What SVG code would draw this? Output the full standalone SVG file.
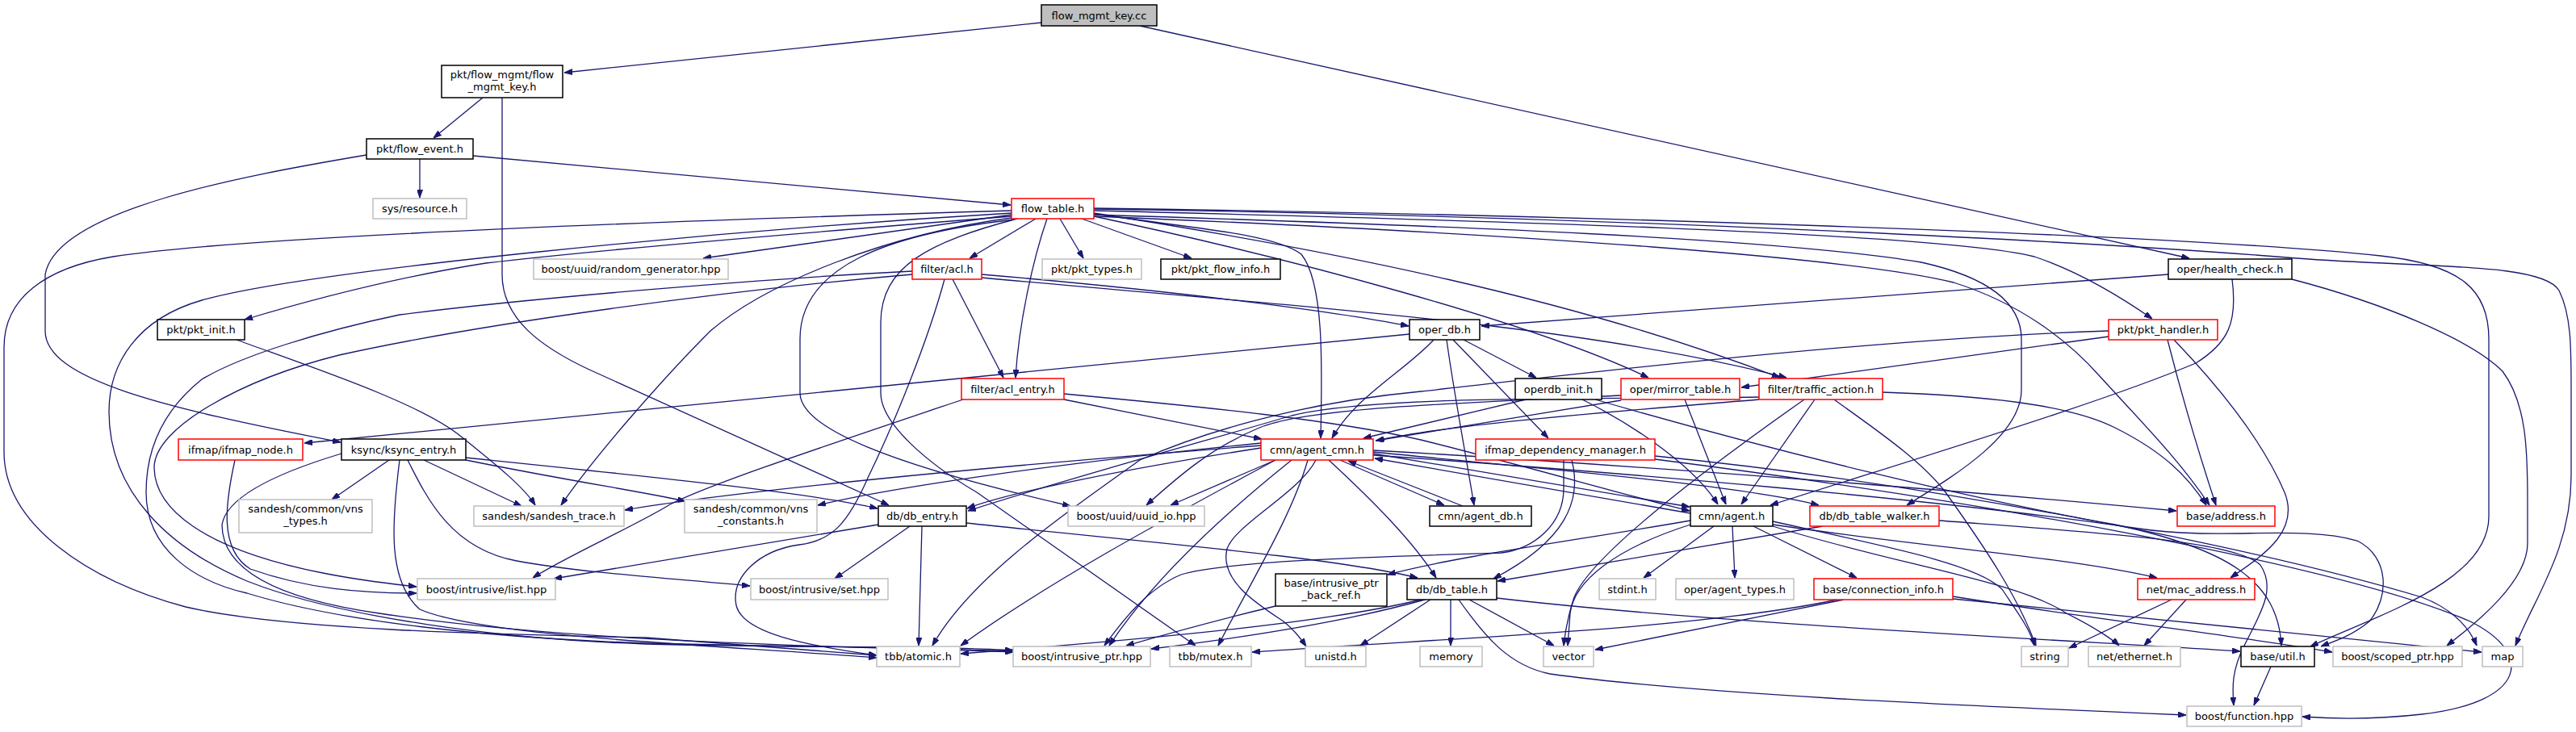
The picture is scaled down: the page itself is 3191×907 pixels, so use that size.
<svg xmlns="http://www.w3.org/2000/svg" width="3191" height="907" viewBox="0 0 3191 907">
<style>
text{font-family:"DejaVu Sans","Liberation Sans",sans-serif;font-size:13px;text-anchor:middle;fill:#000}
.n rect{fill:#fff;stroke:#000;stroke-width:1.5}
.g rect{stroke:#bfbfbf}
.r rect{stroke:#ff0000}
.root rect{fill:#bfbfbf;stroke:#000}
#edges path{fill:none;stroke:#191970;stroke-width:1.3;marker-end:url(#ah)}
</style>
<defs>
<marker id="ah" viewBox="0 0 10 7" refX="10" refY="3.5" markerWidth="10" markerHeight="7" markerUnits="userSpaceOnUse" orient="auto"><path d="M0,0 L10,3.5 L0,7 z" fill="#191970" stroke="#191970" stroke-width="1"/></marker>
</defs>
<rect x="0" y="0" width="3191" height="907" fill="#fff"/>
<g id="edges">
<path d="M1290,28 L699,90"/>
<path d="M1412,32 L2712,320"/>
<path d="M598,121 L537,171"/>
<path d="M622,121 L622,340 C622,395 670,430 730,458 L1101,626"/>
<path d="M520,197 L520,245"/>
<path d="M586,193 L1252,254"/>
<path d="M454,192 C300,218 70,260 56,340 L56,410 C56,470 200,505 422,548"/>
<path d="M1253,266 L871,320"/>
<path d="M1283,271 L1201,320"/>
<path d="M1313,271 L1342,320"/>
<path d="M1340,271 L1476,320"/>
<path d="M1253,268 C1000,288 720,312 602,326 C500,342 390,370 303,396"/>
<path d="M1253,261 C950,270 320,290 140,318 C55,332 5,370 5,430 L5,560 C5,650 110,720 230,752 C350,780 600,786 800,790 L1086,812"/>
<path d="M1253,264 C900,285 380,335 250,372 C170,395 135,450 135,510 C135,610 210,680 306,720 C420,765 620,792 800,798 C1000,803 1180,800 1255,806"/>
<path d="M1253,270 C1100,290 950,350 880,410 C830,460 740,560 695,626"/>
<path d="M1256,272 C1100,290 991,330 991,420 L991,487 C991,530 1100,575 1326,627"/>
<path d="M1260,271 C1150,300 1091,330 1091,400 L1091,487 C1091,525 1150,575 1210,610 L1481,800"/>
<path d="M1297,271 C1280,320 1262,400 1258,468"/>
<path d="M1180,346 L1243,468"/>
<path d="M1355,265 C1480,283 1580,290 1612,315 C1640,350 1638,450 1636,543"/>
<path d="M1355,268 C1600,320 1900,400 2042,468"/>
<path d="M1355,264 C1650,310 1950,370 2205,468"/>
<path d="M1216,340 C1450,360 1650,385 1745,404"/>
<path d="M1216,344 C1600,380 1950,400 2213,468"/>
<path d="M1746,414 L377,549"/>
<path d="M2686,340 L1835,404"/>
<path d="M1776,421 C1740,460 1680,490 1650,543"/>
<path d="M1792,421 C1800,480 1815,560 1826,626"/>
<path d="M1800,421 L1918,543"/>
<path d="M1813,421 L1903,468"/>
<path d="M1355,261 C1800,272 2400,288 2520,318 C2580,338 2630,370 2666,395"/>
<path d="M1355,258 C1900,265 2700,290 2949,317 C3050,328 3083,360 3083,420 L3083,640 C3083,720 2950,760 2862,801"/>
<path d="M1355,259 C2000,268 2600,300 2845,320 C3000,332 3150,325 3170,360 C3185,390 3185,430 3185,480 L3185,590 C3185,680 3140,740 3116,800"/>
<path d="M1355,266 C1800,280 2200,295 2380,325 C2470,345 2504,380 2504,420 L2504,483 C2504,540 2420,590 2362,626"/>
<path d="M1355,268 C1900,290 2300,320 2420,350 C2500,375 2560,420 2600,465 C2650,520 2700,570 2737,626"/>
<path d="M2685,421 C2700,480 2720,550 2745,626"/>
<path d="M2693,421 C2740,470 2800,540 2830,610 C2850,660 2800,690 2763,716"/>
<path d="M2612,417 L2157,480"/>
<path d="M2612,410 C2300,420 1900,470 1760,485 C1600,500 1480,540 1412,570 C1300,650 1200,720 1155,800"/>
<path d="M2765,346 C2772,400 2760,425 2720,450 C2600,500 2400,560 2193,626"/>
<path d="M2839,346 C2950,375 3060,420 3100,460 C3130,500 3131,560 3131,620 L3131,673 C3131,720 3070,770 3031,800"/>
<path d="M2235,495 C2100,590 1970,690 1950,740 C1940,770 1938,790 1937,800"/>
<path d="M2248,495 L2157,625"/>
<path d="M2272,495 C2320,530 2380,570 2410,610 C2460,680 2500,740 2522,800"/>
<path d="M2332,486 C2450,490 2560,500 2620,530 C2680,560 2710,590 2733,626"/>
<path d="M2179,495 C2000,510 1800,525 1705,546"/>
<path d="M2179,492 C1950,495 1700,490 1600,515 C1480,550 1300,600 1199,633"/>
<path d="M2087,495 L2138,625"/>
<path d="M2008,496 L1704,546"/>
<path d="M2008,490 C1800,500 1620,505 1560,530 C1500,555 1460,590 1420,626"/>
<path d="M1890,495 L1689,543"/>
<path d="M1960,495 C2030,530 2100,580 2128,625"/>
<path d="M1976,495 C2200,560 2450,620 2620,650 C2760,680 2822,720 2826,800"/>
<path d="M1947,570 C1960,620 1940,670 1850,717"/>
<path d="M1937,570 L1937,605 C1937,650 1900,680 1860,685 C1700,690 1520,695 1463,712 C1420,730 1390,770 1368,800"/>
<path d="M2050,565 C2400,600 2800,680 3000,740 C3040,755 3060,780 3068,800"/>
<path d="M2050,569 C2450,620 2900,700 3060,770 C3140,810 3130,870 3000,885 C2930,893 2880,890 2852,888"/>
<path d="M1701,562 L2093,628"/>
<path d="M2094,636 L1703,568"/>
<path d="M1318,488 C1500,505 1650,520 1760,545 C1900,580 2000,610 2093,633"/>
<path d="M1318,495 L1563,544"/>
<path d="M1193,495 C1000,560 880,600 830,625 C790,650 700,690 660,716"/>
<path d="M1660,570 L1789,626"/>
<path d="M1812,627 L1670,571"/>
<path d="M1562,549 C1300,575 1100,605 1013,626"/>
<path d="M1562,552 C1200,580 900,610 774,632"/>
<path d="M1562,555 C1400,580 1250,610 1198,630"/>
<path d="M1580,570 L1450,626"/>
<path d="M1580,570 C1450,640 1300,720 1190,800"/>
<path d="M1600,570 C1500,650 1420,730 1374,800"/>
<path d="M1620,570 C1600,640 1550,720 1509,800"/>
<path d="M1630,570 C1610,610 1530,650 1520,680 C1510,720 1560,750 1590,770 C1605,782 1612,792 1618,801"/>
<path d="M1646,570 C1700,620 1750,670 1779,716"/>
<path d="M1701,558 C2000,575 2400,605 2696,633"/>
<path d="M1701,560 C1900,580 2150,600 2253,626"/>
<path d="M1701,564 C2000,585 2400,618 2650,655 C2750,670 2850,650 2920,670 C2960,690 2960,740 2935,770 C2910,790 2890,795 2875,801"/>
<path d="M2123,652 L2036,716"/>
<path d="M2146,652 L2149,716"/>
<path d="M2172,652 L2300,716"/>
<path d="M2094,650 C2000,680 1950,720 1945,760 L1942,800"/>
<path d="M2094,645 C1950,670 1800,690 1719,712"/>
<path d="M2196,650 C2400,680 2560,690 2672,716"/>
<path d="M2196,646 C2350,680 2450,700 2480,730 C2500,760 2515,780 2520,800"/>
<path d="M2196,652 C2350,700 2500,720 2560,760 C2600,780 2620,795 2625,800"/>
<path d="M2402,645 C2600,660 2770,670 2800,700 C2820,730 2800,760 2780,800 C2765,830 2765,850 2767,874"/>
<path d="M2258,652 L1855,720"/>
<path d="M1760,743 C1650,770 1450,790 1190,810"/>
<path d="M1765,743 C1650,775 1500,795 1426,804"/>
<path d="M1772,743 L1685,800"/>
<path d="M1797,743 L1797,800"/>
<path d="M1820,743 L1925,800"/>
<path d="M1807,743 C1840,790 1870,825 1920,835 C2100,860 2400,873 2708,886"/>
<path d="M1854,741 C2100,770 2500,790 2775,807"/>
<path d="M2284,743 L1976,805"/>
<path d="M2276,743 C2100,780 1800,790 1551,808"/>
<path d="M2419,742 C2700,770 2950,795 3074,808"/>
<path d="M2419,739 C2600,768 2800,792 2889,808"/>
<path d="M2690,743 L2563,803"/>
<path d="M2708,743 L2656,800"/>
<path d="M2813,826 L2792,874"/>
<path d="M1580,751 C1500,770 1430,790 1395,800"/>
<path d="M1088,650 L686,717"/>
<path d="M1127,652 L1034,717"/>
<path d="M1142,652 L1138,800"/>
<path d="M1197,648 C1400,670 1650,690 1756,716"/>
<path d="M482,570 L411,619"/>
<path d="M525,570 L646,627"/>
<path d="M577,567 C800,590 1000,610 1087,630"/>
<path d="M577,570 C700,595 800,610 849,621"/>
<path d="M505,570 C530,620 560,680 640,695 C720,710 850,718 929,726"/>
<path d="M495,570 C485,650 480,720 520,755 C600,790 900,800 1086,815"/>
<path d="M423,562 C330,590 280,620 275,650 C275,700 330,740 470,760 C700,795 1000,800 1255,808"/>
<path d="M291,570 C280,620 270,680 310,705 C380,730 450,735 516,735"/>
<path d="M1130,340 C900,360 600,400 420,440 C300,470 190,530 191,580 C192,630 250,680 400,710 C450,720 490,724 516,727"/>
<path d="M1130,336 C950,345 650,370 495,390 C400,410 300,440 250,470 C200,510 181,560 181,610 C181,680 240,720 306,735 C420,770 600,790 800,797 C1000,802 1150,802 1255,807"/>
<path d="M1170,346 C1150,420 1110,520 1076,590 C1050,650 1030,670 990,675 C940,682 905,715 912,750 C920,785 1000,800 1086,812"/>
<path d="M293,421 C400,460 520,500 570,540 C620,580 650,605 663,626"/>
</g>
<g id="n_cc" class="n root"><rect x="1290" y="6" width="143" height="26"/><text x="1361.5" y="23.5">flow_mgmt_key.cc</text></g>
<g id="n_fmk" class="n"><rect x="547" y="81" width="150" height="40"/><text x="622" y="97">pkt/flow_mgmt/flow</text><text x="622" y="112">_mgmt_key.h</text></g>
<g id="n_fe" class="n"><rect x="454" y="172" width="132" height="25"/><text x="520" y="189">pkt/flow_event.h</text></g>
<g id="n_sysres" class="n g"><rect x="462" y="246" width="116" height="25"/><text x="520" y="263">sys/resource.h</text></g>
<g id="n_ft" class="n r"><rect x="1253" y="246" width="102" height="25"/><text x="1304" y="263">flow_table.h</text></g>
<g id="n_rg" class="n g"><rect x="661" y="321" width="241" height="25"/><text x="781.5" y="338">boost/uuid/random_generator.hpp</text></g>
<g id="n_acl" class="n r"><rect x="1130" y="321" width="86" height="25"/><text x="1173" y="338">filter/acl.h</text></g>
<g id="n_pt" class="n g"><rect x="1291" y="321" width="123" height="25"/><text x="1352.5" y="338">pkt/pkt_types.h</text></g>
<g id="n_pfi" class="n"><rect x="1438" y="321" width="148" height="25"/><text x="1512" y="338">pkt/pkt_flow_info.h</text></g>
<g id="n_hc" class="n"><rect x="2686" y="321" width="153" height="25"/><text x="2762.5" y="338">oper/health_check.h</text></g>
<g id="n_pi" class="n"><rect x="195" y="396" width="108" height="25"/><text x="249" y="413">pkt/pkt_init.h</text></g>
<g id="n_odb" class="n"><rect x="1746" y="396" width="87" height="25"/><text x="1789.5" y="413">oper_db.h</text></g>
<g id="n_ph" class="n r"><rect x="2612" y="396" width="135" height="25"/><text x="2679.5" y="413">pkt/pkt_handler.h</text></g>
<g id="n_odbi" class="n"><rect x="1877" y="469" width="107" height="26"/><text x="1930.5" y="487">operdb_init.h</text></g>
<g id="n_mt" class="n r"><rect x="2008" y="469" width="147" height="26"/><text x="2081.5" y="487">oper/mirror_table.h</text></g>
<g id="n_ta" class="n r"><rect x="2179" y="469" width="153" height="26"/><text x="2255.5" y="487">filter/traffic_action.h</text></g>
<g id="n_ae" class="n r"><rect x="1191" y="469" width="127" height="26"/><text x="1254.5" y="487">filter/acl_entry.h</text></g>
<g id="n_ifn" class="n r"><rect x="221" y="544" width="154" height="26"/><text x="298" y="562">ifmap/ifmap_node.h</text></g>
<g id="n_ks" class="n"><rect x="423" y="544" width="154" height="26"/><text x="500" y="562">ksync/ksync_entry.h</text></g>
<g id="n_ac" class="n r"><rect x="1562" y="544" width="139" height="26"/><text x="1631.5" y="562">cmn/agent_cmn.h</text></g>
<g id="n_idm" class="n r"><rect x="1828" y="544" width="222" height="26"/><text x="1939" y="562">ifmap_dependency_manager.h</text></g>
<g id="n_vt" class="n g"><rect x="296" y="619" width="165" height="41"/><text x="378.5" y="635">sandesh/common/vns</text><text x="378.5" y="650">_types.h</text></g>
<g id="n_st" class="n g"><rect x="587" y="627" width="186" height="25"/><text x="680" y="644">sandesh/sandesh_trace.h</text></g>
<g id="n_vc" class="n g"><rect x="848" y="619" width="164" height="41"/><text x="930" y="635">sandesh/common/vns</text><text x="930" y="650">_constants.h</text></g>
<g id="n_de" class="n"><rect x="1088" y="627" width="109" height="25"/><text x="1142.5" y="644">db/db_entry.h</text></g>
<g id="n_uio" class="n g"><rect x="1323" y="627" width="169" height="25"/><text x="1407.5" y="644">boost/uuid/uuid_io.hpp</text></g>
<g id="n_adb" class="n"><rect x="1771" y="627" width="126" height="25"/><text x="1834" y="644">cmn/agent_db.h</text></g>
<g id="n_ag" class="n"><rect x="2094" y="627" width="102" height="25"/><text x="2145" y="644">cmn/agent.h</text></g>
<g id="n_dtw" class="n r"><rect x="2242" y="627" width="160" height="25"/><text x="2322" y="644">db/db_table_walker.h</text></g>
<g id="n_addr" class="n r"><rect x="2697" y="627" width="121" height="25"/><text x="2757.5" y="644">base/address.h</text></g>
<g id="n_list" class="n g"><rect x="517" y="717" width="171" height="26"/><text x="602.5" y="735">boost/intrusive/list.hpp</text></g>
<g id="n_set" class="n g"><rect x="930" y="717" width="170" height="26"/><text x="1015" y="735">boost/intrusive/set.hpp</text></g>
<g id="n_ipbr" class="n"><rect x="1580" y="711" width="138" height="40"/><text x="1649" y="727">base/intrusive_ptr</text><text x="1649" y="742">_back_ref.h</text></g>
<g id="n_dt" class="n"><rect x="1743" y="717" width="111" height="26"/><text x="1798.5" y="735">db/db_table.h</text></g>
<g id="n_stdint" class="n g"><rect x="1981" y="717" width="70" height="26"/><text x="2016" y="735">stdint.h</text></g>
<g id="n_at" class="n g"><rect x="2076" y="717" width="146" height="26"/><text x="2149" y="735">oper/agent_types.h</text></g>
<g id="n_ci" class="n r"><rect x="2247" y="717" width="172" height="26"/><text x="2333" y="735">base/connection_info.h</text></g>
<g id="n_mac" class="n r"><rect x="2648" y="717" width="145" height="26"/><text x="2720.5" y="735">net/mac_address.h</text></g>
<g id="n_atomic" class="n g"><rect x="1086" y="801" width="103" height="25"/><text x="1137.5" y="818">tbb/atomic.h</text></g>
<g id="n_iptr" class="n g"><rect x="1255" y="801" width="170" height="25"/><text x="1340" y="818">boost/intrusive_ptr.hpp</text></g>
<g id="n_mutex" class="n g"><rect x="1449" y="801" width="101" height="25"/><text x="1499.5" y="818">tbb/mutex.h</text></g>
<g id="n_unistd" class="n g"><rect x="1617" y="801" width="75" height="25"/><text x="1654.5" y="818">unistd.h</text></g>
<g id="n_memory" class="n g"><rect x="1759" y="801" width="77" height="25"/><text x="1797.5" y="818">memory</text></g>
<g id="n_vector" class="n g"><rect x="1912" y="801" width="62" height="25"/><text x="1943" y="818">vector</text></g>
<g id="n_string" class="n g"><rect x="2504" y="801" width="58" height="25"/><text x="2533" y="818">string</text></g>
<g id="n_eth" class="n g"><rect x="2587" y="801" width="114" height="25"/><text x="2644" y="818">net/ethernet.h</text></g>
<g id="n_util" class="n"><rect x="2776" y="801" width="91" height="25"/><text x="2821.5" y="818">base/util.h</text></g>
<g id="n_sptr" class="n g"><rect x="2890" y="801" width="160" height="25"/><text x="2970" y="818">boost/scoped_ptr.hpp</text></g>
<g id="n_map" class="n g"><rect x="3075" y="801" width="50" height="25"/><text x="3100" y="818">map</text></g>
<g id="n_func" class="n g"><rect x="2709" y="875" width="142" height="25"/><text x="2780" y="892">boost/function.hpp</text></g>
</svg>
